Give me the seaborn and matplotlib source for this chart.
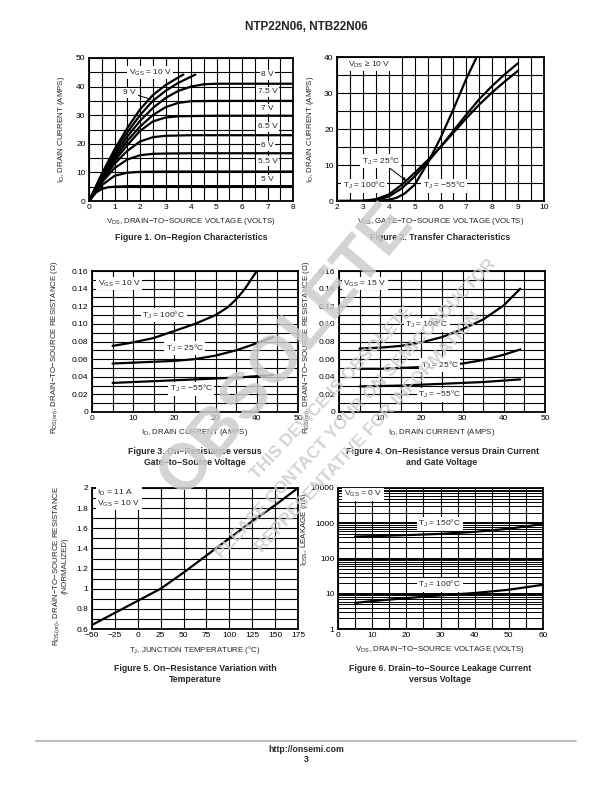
import numpy as np
import pandas as pd
import matplotlib
matplotlib.use("Agg")
import matplotlib.pyplot as plt
import seaborn as sns
from matplotlib.ticker import MultipleLocator, FuncFormatter, LogLocator, NullFormatter

# ---------------- Figure 1: on-region characteristics (VDS in V, ID in A)
f1_vds_10v = [0, 0.5, 1, 1.5, 2, 2.5, 3, 3.5, 3.7]
f1_id_10v = [0, 9.5, 18, 25.5, 32, 37, 40.5, 43.2, 44.2]
f1_vds_9v = [0, 0.5, 1, 1.5, 2, 2.5, 3, 3.5, 4.17]
f1_id_9v = [0, 9, 17, 24, 30, 35, 38.5, 41.3, 44.2]
f1_vds_8v = [0, 0.5, 1, 1.5, 2, 2.5, 3, 3.5, 4, 4.5, 5, 6, 7, 8]
f1_id_8v = [0, 8.5, 16, 22.5, 28, 32.5, 36, 38.5, 40, 40.8, 41, 41, 41, 41]
f1_vds_75v = [0, 0.5, 1, 1.5, 2, 2.5, 3, 3.5, 4, 5, 6, 7, 8]
f1_id_75v = [0, 8, 15, 21, 26, 30, 32.8, 34.3, 34.9, 35, 35, 35, 35]
f1_vds_7v = [0, 0.5, 1, 1.5, 2, 2.5, 3, 3.5, 4, 5, 6, 7, 8]
f1_id_7v = [0, 7.5, 14, 19.5, 24.5, 27.8, 29.2, 29.6, 29.7, 29.8, 29.8, 29.8, 29.8]
f1_vds_65v = [0, 0.5, 1, 1.5, 2, 2.5, 3, 4, 5, 6, 7, 8]
f1_id_65v = [0, 7, 13, 17.5, 20.8, 22.3, 22.8, 23, 23, 23, 23, 23]
f1_vds_6v = [0, 0.5, 1, 1.5, 2, 2.5, 3, 4, 8]
f1_id_6v = [0, 6.5, 11.5, 14.5, 16, 16.5, 16.6, 16.7, 16.7]
f1_vds_55v = [0, 0.5, 1, 1.5, 2, 3, 8]
f1_id_55v = [0, 5.5, 8.8, 9.9, 10.2, 10.3, 10.3]
f1_vds_5v = [0, 0.25, 0.5, 0.75, 1, 1.5, 2, 8]
f1_id_5v = [0, 2.8, 4.2, 4.8, 5.0, 5.2, 5.2, 5.2]
f1_right_labels = ["8 V", "7.5 V", "7 V", "6.5 V", "6 V", "5.5 V", "5 V"]
f1_right_label_y = [44.2, 38.2, 32.2, 25.9, 19.3, 13.9, 7.4]

# ---------------- Figure 2: transfer characteristics (VGS in V, ID in A)
f2_vgs_m55 = [2, 3, 3.5, 4, 4.3, 4.6, 5, 5.5, 6, 6.5, 7, 7.4]
f2_id_m55 = [0, 0, 0.05, 0.3, 0.9, 2, 4.5, 10.5, 17.5, 25.5, 34, 40]
f2_vgs_25 = [2, 3, 3.5, 4, 4.5, 5, 5.5, 6, 6.5, 7, 7.5, 8, 8.5, 9]
f2_id_25 = [0, 0, 0.3, 1.2, 3.5, 6.8, 10.8, 15, 19.5, 24, 28.3, 32, 35.3, 38.3]
f2_vgs_100 = [2, 3, 3.5, 4, 4.5, 5, 5.5, 6, 6.5, 7, 7.5, 8, 8.5, 9]
f2_id_100 = [0, 0.05, 0.5, 1.8, 4.5, 7.8, 11.3, 15, 19, 23, 26.8, 30.2, 33.3, 36.2]

# ---------------- Figure 3: RDS(on) vs ID, VGS = 10 V
f3_id_100 = [5, 10, 15, 20, 25, 30, 33, 35, 37, 40]
f3_r_100 = [0.075, 0.079, 0.084, 0.092, 0.100, 0.110, 0.119, 0.128, 0.139, 0.160]
f3_id_25 = [5, 10, 15, 20, 25, 30, 35, 40, 44]
f3_r_25 = [0.055, 0.056, 0.057, 0.058, 0.060, 0.064, 0.070, 0.078, 0.085]
f3_id_m55 = [5, 15, 25, 35, 44]
f3_r_m55 = [0.033, 0.035, 0.037, 0.039, 0.042]

# ---------------- Figure 4: RDS(on) vs ID, VGS = 15 V
f4_id_100 = [5, 10, 15, 20, 25, 30, 35, 40, 44]
f4_r_100 = [0.072, 0.073, 0.075, 0.079, 0.085, 0.094, 0.105, 0.121, 0.140]
f4_id_25 = [5, 10, 15, 20, 25, 30, 35, 40, 44]
f4_r_25 = [0.049, 0.049, 0.050, 0.051, 0.053, 0.055, 0.059, 0.065, 0.071]
f4_id_m55 = [5, 15, 25, 35, 44]
f4_r_m55 = [0.029, 0.030, 0.032, 0.034, 0.037]

# ---------------- Figure 5: normalized RDS(on) vs TJ
f5_tj = [-50, -25, 0, 25, 50, 75, 100, 125, 150, 175]
f5_rnorm = [0.64, 0.76, 0.88, 1.0, 1.16, 1.33, 1.5, 1.67, 1.83, 2.0]

# ---------------- Figure 6: IDSS leakage vs VDS (nA)
f6_vds_150 = [5, 10, 20, 30, 40, 50, 60]
f6_idss_150 = [420, 430, 460, 500, 570, 700, 950]
f6_vds_100 = [5, 10, 20, 30, 40, 50, 60]
f6_idss_100 = [5.5, 6.2, 7.5, 9, 10.5, 13, 18]

W, H = 612, 792
sns.set_style("white")
plt.rcParams["font.family"] = ["Liberation Sans", "DejaVu Sans"]
plt.rcParams["mathtext.fontset"] = "custom"
plt.rcParams["mathtext.rm"] = "Liberation Sans"
plt.rcParams["mathtext.it"] = "Liberation Sans"

FS = 6.0     # tick labels and in-plot notes
AFS = 5.7    # axis titles
LBL = dict(fc="white", ec="none", pad=1.0)


def frame(curves):
    """Build a long table from (name, xs, ys) tuples."""
    parts = [pd.DataFrame({"x": xs, "y": ys, "curve": name}) for name, xs, ys in curves]
    return pd.concat(parts, ignore_index=True)


def add_axes(fig, x0, y0, x1, y1):
    # pixel box (top-left origin) -> figure fraction
    return fig.add_axes([x0 / W, 1 - y1 / H, (x1 - x0) / W, (y1 - y0) / H])


def style(ax, xlim, ylim, xmaj, xmin, ymaj, ymin, xfmt=None, yfmt=None):
    ax.set_xlim(*xlim)
    ax.set_ylim(*ylim)
    ax.xaxis.set_major_locator(MultipleLocator(xmaj))
    ax.xaxis.set_minor_locator(MultipleLocator(xmin))
    if ymaj is not None:
        ax.yaxis.set_major_locator(MultipleLocator(ymaj))
        ax.yaxis.set_minor_locator(MultipleLocator(ymin))
    if xfmt:
        ax.xaxis.set_major_formatter(FuncFormatter(xfmt))
    if yfmt:
        ax.yaxis.set_major_formatter(FuncFormatter(yfmt))
    ax.grid(which="both", color="black", lw=0.8)
    ax.set_axisbelow(True)
    ax.tick_params(which="both", length=0, labelsize=FS, pad=2.5, colors="black")
    for s in ax.spines.values():
        s.set_visible(True)
        s.set_color("black")
        s.set_linewidth(1.3)


def titles(ax, xl, yl, ylx, yly=0.5):
    ax.set_xlabel(xl, fontsize=AFS, labelpad=3)
    ax.set_ylabel(yl, fontsize=AFS, linespacing=1.05)
    ax.yaxis.set_label_coords(ylx, yly)


def draw(ax, df):
    sns.lineplot(data=df, x="x", y="y", units="curve", estimator=None, sort=True,
                 color="black", lw=1.6, ax=ax, legend=False)


def note(ax, x, y, text, **kw):
    ax.text(x, y, text, fontsize=FS, ha=kw.pop("ha", "center"), va="center", bbox=LBL, **kw)


def caption(fig, cx, y, text):
    fig.text(cx / W, 1 - y / H, text, ha="center", va="center", fontsize=6.3,
             fontweight="bold", linespacing=1.25)


gfmt = lambda v, p: f"{v:g}".replace("-", "−")
TJ = r"T$_{\mathregular{J}}$"

fig = plt.figure(figsize=(W / 100, H / 100), dpi=100)

# ---------- Figure 1
ax1 = add_axes(fig, 89, 58, 293, 201)
draw(ax1, frame([
    ("10", f1_vds_10v, f1_id_10v), ("9", f1_vds_9v, f1_id_9v), ("8", f1_vds_8v, f1_id_8v),
    ("7.5", f1_vds_75v, f1_id_75v), ("7", f1_vds_7v, f1_id_7v), ("6.5", f1_vds_65v, f1_id_65v),
    ("6", f1_vds_6v, f1_id_6v), ("5.5", f1_vds_55v, f1_id_55v), ("5", f1_vds_5v, f1_id_5v)]))
style(ax1, (0, 8), (0, 50), 1, 0.5, 10, 5, xfmt=gfmt, yfmt=gfmt)
titles(ax1, r"V$_{\mathregular{DS}}$, DRAIN−TO−SOURCE VOLTAGE (VOLTS)",
       r"I$_{\mathregular{D}}$, DRAIN CURRENT (AMPS)", -0.108)
note(ax1, 2.4, 44.8, r"V$_{\mathregular{GS}}$ = 10 V")
ax1.annotate("9 V", xy=(2.42, 35.6), xytext=(1.6, 37.8), fontsize=FS, ha="center", va="center",
             bbox=LBL, arrowprops=dict(arrowstyle="-", lw=0.7, color="black", shrinkA=0, shrinkB=0))
for t, yv in zip(f1_right_labels, f1_right_label_y):
    note(ax1, 7.0, yv, t)
caption(fig, 191, 238, "Figure 1. On−Region Characteristics")

# ---------- Figure 2
ax2 = add_axes(fig, 337, 57, 544, 201)
draw(ax2, frame([("m55", f2_vgs_m55, f2_id_m55), ("25", f2_vgs_25, f2_id_25),
                 ("100", f2_vgs_100, f2_id_100)]))
style(ax2, (2, 10), (0, 40), 1, 0.5, 10, 5, xfmt=gfmt, yfmt=gfmt)
titles(ax2, r"V$_{\mathregular{GS}}$, GATE−TO−SOURCE VOLTAGE (VOLTS)",
       r"I$_{\mathregular{D}}$, DRAIN CURRENT (AMPS)", -0.10)
note(ax2, 3.25, 37.8, r"V$_{\mathregular{DS}}$ ≥ 10 V")
ax2.annotate(TJ + " = 25°C", xy=(4.68, 5.6), xytext=(3.7, 11), fontsize=FS,
             ha="center", va="center", bbox=LBL,
             arrowprops=dict(arrowstyle="-|>", lw=0.7, color="black", mutation_scale=5,
                             shrinkA=0, shrinkB=0))
note(ax2, 3.05, 4.3, TJ + " = 100°C")
note(ax2, 6.15, 4.3, TJ + " = −55°C")
caption(fig, 440, 238, "Figure 2. Transfer Characteristics")

rfmt = lambda v, p: "0" if abs(v) < 1e-9 else f"{v:.2f}"
rlabel = r"R$_{\mathregular{DS(on)}}$, DRAIN−TO−SOURCE RESISTANCE (Ω)"
idlabel = r"I$_{\mathregular{D}}$, DRAIN CURRENT (AMPS)"

# ---------- Figure 3
ax3 = add_axes(fig, 92, 271, 298, 412)
draw(ax3, frame([("100", f3_id_100, f3_r_100), ("25", f3_id_25, f3_r_25), ("m55", f3_id_m55, f3_r_m55)]))
style(ax3, (0, 50), (0, 0.16), 10, 5, 0.02, 0.01, xfmt=gfmt, yfmt=rfmt)
titles(ax3, idlabel, rlabel, -0.155, 0.46)
note(ax3, 6.6, 0.1456, r"V$_{\mathregular{GS}}$ = 10 V")
note(ax3, 17.4, 0.110, TJ + " = 100°C")
note(ax3, 22.5, 0.0726, TJ + " = 25°C")
note(ax3, 24.1, 0.0265, TJ + " = −55°C")
caption(fig, 195, 457, "Figure 3. On−Resistance versus\nGate−to−Source Voltage")

# ---------- Figure 4
ax4 = add_axes(fig, 339, 271, 545, 412)
draw(ax4, frame([("100", f4_id_100, f4_r_100), ("25", f4_id_25, f4_r_25), ("m55", f4_id_m55, f4_r_m55)]))
style(ax4, (0, 50), (0, 0.16), 10, 5, 0.02, 0.01, xfmt=gfmt, yfmt=rfmt)
titles(ax4, idlabel, rlabel, -0.13, 0.46)
note(ax4, 6.3, 0.1456, r"V$_{\mathregular{GS}}$ = 15 V")
note(ax4, 21.3, 0.099, TJ + " = 100°C")
note(ax4, 24.5, 0.053, TJ + " = 25°C")
note(ax4, 24.5, 0.0197, TJ + " = −55°C")
caption(fig, 442, 457, "Figure 4. On−Resistance versus Drain Current\nand Gate Voltage")

# ---------- Figure 5
ax5 = add_axes(fig, 92, 488, 298, 629)
draw(ax5, frame([("r", f5_tj, f5_rnorm)]))
style(ax5, (-50, 175), (0.6, 2.0), 25, 25, 0.2, 0.1, xfmt=gfmt,
      yfmt=lambda v, p: f"{round(v, 1):g}")
titles(ax5, TJ + ", JUNCTION TEMPERATURE (°C)",
       r"R$_{\mathregular{DS(on)}}$, DRAIN−TO−SOURCE RESISTANCE" + "\n(NORMALIZED)", -0.112, 0.45)
note(ax5, -44, 1.9, r"I$_{\mathregular{D}}$ = 11 A" + "\n" + r"V$_{\mathregular{GS}}$ = 10 V",
     ha="left", linespacing=1.1)
caption(fig, 195, 674, "Figure 5. On−Resistance Variation with\nTemperature")

# ---------- Figure 6
ax6 = add_axes(fig, 338, 488, 543, 629)
draw(ax6, frame([("150", f6_vds_150, f6_idss_150), ("100", f6_vds_100, f6_idss_100)]))
ax6.set_yscale("log")
style(ax6, (0, 60), (1, 10000), 10, 5, None, None, xfmt=gfmt)
ax6.yaxis.set_major_locator(LogLocator(base=10, numticks=10))
ax6.yaxis.set_minor_locator(LogLocator(base=10, subs=np.arange(2, 10), numticks=20))
ax6.yaxis.set_major_formatter(FuncFormatter(lambda v, p: f"{v:g}"))
ax6.yaxis.set_minor_formatter(NullFormatter())
ax6.grid(which="major", axis="y", color="black", lw=1.4)
ax6.grid(which="minor", axis="y", color="black", lw=0.7)
ax6.tick_params(which="both", length=0, labelsize=FS, pad=2.5)
titles(ax6, r"V$_{\mathregular{DS}}$, DRAIN−TO−SOURCE VOLTAGE (VOLTS)",
       r"I$_{\mathregular{DSS}}$, LEAKAGE (nA)", -0.135, 0.71)
note(ax6, 7.3, 6700, r"V$_{\mathregular{GS}}$ = 0 V")
note(ax6, 29.8, 980, TJ + " = 150°C")
note(ax6, 29.8, 18, TJ + " = 100°C")
caption(fig, 440, 674, "Figure 6. Drain−to−Source Leakage Current\nversus Voltage")

# ---------- page furniture
fig.text(306 / W, 1 - 27 / H, "NTP22N06, NTB22N06", ha="center", va="center",
         fontsize=8.5, fontweight="bold")
fig.add_artist(plt.Line2D([36 / W, 576 / W], [1 - 741 / H] * 2, color="#bdbdbd", lw=1.5))
fig.text(306 / W, 1 - 750 / H, "http://onsemi.com", ha="center", va="center", fontsize=6.3, fontweight="bold")
fig.text(306 / W, 1 - 760 / H, "3", ha="center", va="center", fontsize=6.3, fontweight="bold")

# ---------- OBSOLETE watermark
wm = dict(color="#cccccc", alpha=0.85, fontweight="bold", ha="center", va="center",
          rotation_mode="anchor", zorder=50)
fig.text(286 / W, 1 - 350 / H, "OBSOLETE", fontsize=47, rotation=50, **wm)
fig.text(332 / W, 1 - 393 / H, "THIS DEVICE IS OBSOLETE", fontsize=12.5, rotation=47, **wm)
fig.text(356 / W, 1 - 409 / H, "PLEASE CONTACT YOUR ON SEMICONDUCTOR", fontsize=12.5, rotation=47, **wm)
fig.text(368 / W, 1 - 432 / H, "REPRESENTATIVE FOR INFORMATION", fontsize=12.5, rotation=47, **wm)

fig.savefig("out.png", dpi=100)
